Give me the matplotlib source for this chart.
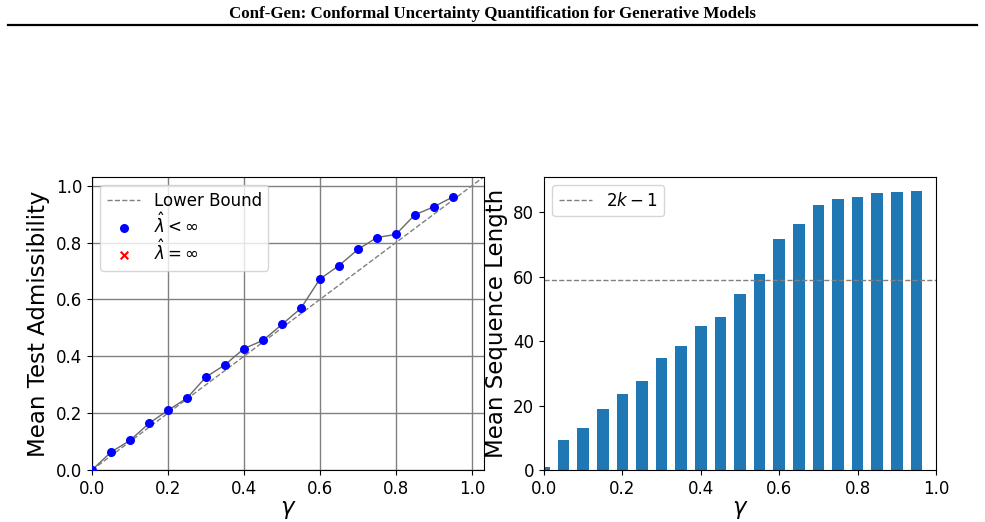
import numpy as np
import matplotlib
matplotlib.use("Agg")
import matplotlib.pyplot as plt
from matplotlib.lines import Line2D

gamma = [0.0, 0.05, 0.1, 0.15, 0.2, 0.25, 0.3, 0.35, 0.4, 0.45, 0.5,
         0.55, 0.6, 0.65, 0.7, 0.75, 0.8, 0.85, 0.9, 0.95]
admissibility = [0.0, 0.063, 0.104, 0.164, 0.210, 0.253, 0.327, 0.370, 0.427, 0.456,
                 0.512, 0.569, 0.672, 0.719, 0.776, 0.818, 0.829, 0.898, 0.926, 0.961]
seq_length = [0.95, 9.3, 13.1, 19.0, 23.6, 27.7, 34.8, 38.5, 44.8, 47.6, 54.7,
              60.9, 71.8, 76.5, 82.1, 84.2, 84.6, 86.1, 86.4, 86.7]
bound_2k1 = 59
lower_bound_x = [0.0, 1.032]

fig = plt.figure(figsize=(9.85, 5.22), dpi=100)

# paper header
fig.text(0.5, 0.974, "Conf-Gen: Conformal Uncertainty Quantification for Generative Models",
         ha="center", va="center", fontsize=12.2, fontweight="bold",
         family="Liberation Serif")
fig.add_artist(Line2D([0.008, 0.992], [0.952, 0.952], color="black", lw=1.6,
                      transform=fig.transFigure))

fs_tick = 12
fs_label = 16.5
fs_leg = 12

ax1 = fig.add_axes([92/985, 1 - 470/522, (484-92)/985, (470-176.7)/522])
ax1.plot(lower_bound_x, lower_bound_x, linestyle="--", color="gray", lw=1, label="Lower Bound")
ax1.plot(gamma, admissibility, color="dimgray", lw=1, zorder=3)
ax1.scatter(gamma, admissibility, color="blue", s=30, zorder=4, label=r"$\hat{\lambda} < \infty$")
ax1.scatter([], [], color="red", marker="x", s=30, label=r"$\hat{\lambda} = \infty$")
ax1.set_xlim(0, 1.032)
ax1.set_ylim(0, 1.032)
ax1.set_xticks([0.0, 0.2, 0.4, 0.6, 0.8, 1.0])
ax1.set_yticks([0.0, 0.2, 0.4, 0.6, 0.8, 1.0])
ax1.grid(True, color="gray", lw=1)
ax1.set_axisbelow(True)
ax1.tick_params(labelsize=fs_tick)
ax1.set_xlabel(r"$\gamma$", fontsize=fs_label, labelpad=0)
ax1.set_ylabel("Mean Test Admissibility", fontsize=fs_label, labelpad=4)
ax1.legend(loc="upper left", fontsize=fs_leg, labelspacing=0.15)

ax2 = fig.add_axes([544/985, 1 - 470/522, (936-544)/985, (470-176.7)/522])
ax2.bar(gamma, seq_length, width=0.03, color="#1f77b4")
ax2.axhline(bound_2k1, linestyle="--", color="gray", lw=1, label=r"$2k-1$")
ax2.set_xlim(0, 1.0)
ax2.set_xticks([0.0, 0.2, 0.4, 0.6, 0.8, 1.0])
ax2.set_yticks([0, 20, 40, 60, 80])
ax2.tick_params(labelsize=fs_tick)
ax2.set_xlabel(r"$\gamma$", fontsize=fs_label, labelpad=0)
ax2.set_ylabel("Mean Sequence Length", fontsize=fs_label, labelpad=4)
ax2.legend(loc="upper left", fontsize=fs_leg)

fig.savefig("out.png", dpi=100)
